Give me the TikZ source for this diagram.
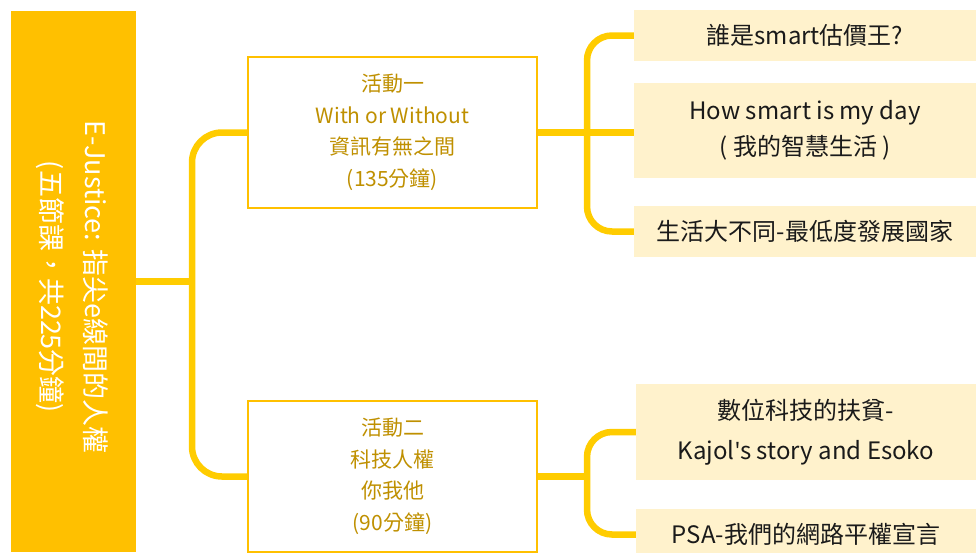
\documentclass[tikz,border=0pt]{standalone}
\usepackage{fontspec}
\setmainfont{Noto Sans CJK TC}
\newfontfamily\aposfont{Noto Sans}
\definecolor{barc}{HTML}{FFC000}
\definecolor{linec}{HTML}{FFCC00}
\definecolor{goldt}{HTML}{BF9000}
\definecolor{palec}{HTML}{FFF2CC}
\definecolor{darkt}{HTML}{1A1A1A}
\begin{document}
\begin{tikzpicture}[x=1pt,y=-1pt,
  conn/.style={draw=linec, line width=6.5pt},
  actbox/.style={draw=barc, line width=1.5pt, fill=white, minimum width=289pt, minimum height=151pt, inner sep=0pt, align=center, text=goldt, font=\fontsize{21}{31.5}\selectfont},
  topic/.style={fill=palec, minimum width=342pt, inner sep=0pt, align=center, text=darkt, font=\fontsize{24}{40}\selectfont}]
\useasboundingbox (0,0) rectangle (976,552);
% left bar
\node[fill=barc, minimum width=125pt, minimum height=541pt, inner sep=0pt] (bar) at (73.5,281.5) {};
\node[rotate=-90, text=white, align=center, inner sep=0pt, font=\fontsize{27}{44}\selectfont] (title) at (72,287) {E-Justice: 指尖e線間的人權\\(五節課，共225分鐘)};
% activity boxes
\node[actbox] (b1) at (392.5,132.5) {活動一\\With or Without\\資訊有無之間\\(135分鐘)};
\node[actbox] (b2) at (392.5,476.5) {活動二\\科技人權\\你我他\\(90分鐘)};
% topic boxes
\node[topic, minimum height=51pt] (r1) at (805,35.5) {誰是smart估價王?};
\node[topic, minimum height=95pt] (r2) at (805,130.5) {\raisebox{-4pt}{How smart is my day}\\( 我的智慧生活 )};
\node[topic, minimum height=51pt] (r3) at (805,231.5) {生活大不同-最低度發展國家};
\node[topic, minimum width=340pt, minimum height=96pt] (r4) at (806,432) {數位科技的扶貧-\\Kajol{\aposfont '}s story and Esoko};
\node[topic, minimum width=340pt, minimum height=51pt] (r5) at (806,534.5) {PSA-我們的網路平權宣言};
% junction coordinates
\coordinate (lj) at (192,0);
\coordinate (rj) at (587,0);
% connectors
\draw[conn] (bar.east) -- (bar.east -| lj);
\draw[conn, rounded corners=30pt] (b1.west) -- (b1.west -| lj) -- (b2.west -| lj) -- (b2.west);
\draw[conn] (b1.east) -- (b1.east -| r2.west);
\draw[conn, rounded corners=25pt] (r1.west) -- (r1.west -| rj) -- (r3.west -| rj) -- (r3.west);
\draw[conn] (b2.east) -- (b2.east -| rj);
\draw[conn, rounded corners=25pt] (r4.west) -- (r4.west -| rj) -- (r5.west -| rj) -- (r5.west);
\end{tikzpicture}
\end{document}
